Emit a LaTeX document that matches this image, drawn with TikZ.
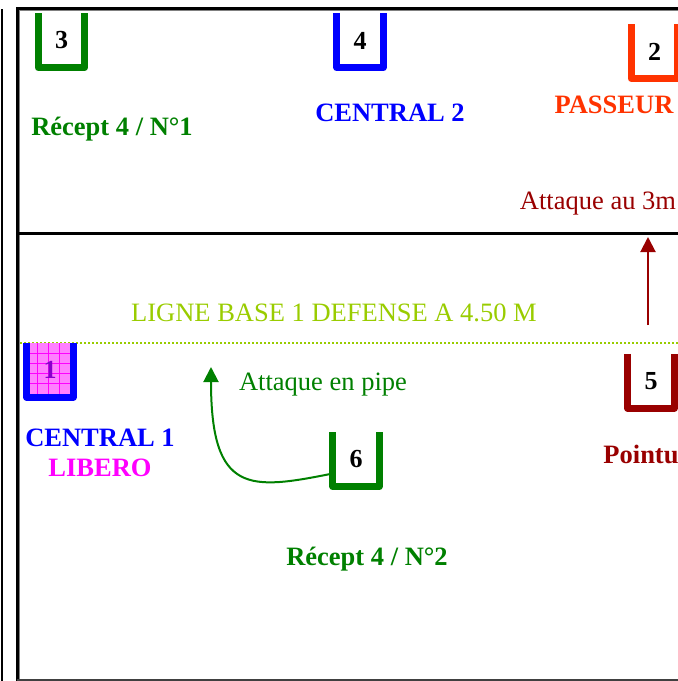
\documentclass[tikz,border=0pt]{standalone}
\usepackage{fontspec}
\setmainfont{Liberation Serif}
\usepackage{xcolor}
\usepackage{tikz}
\usetikzlibrary{arrows.meta, positioning}
\definecolor{courtgreen}{HTML}{008000}
\definecolor{courtblue}{HTML}{0000FF}
\definecolor{passeurred}{HTML}{FF3300}
\definecolor{pointured}{HTML}{990000}
\definecolor{lignegreen}{HTML}{99CC00}
\definecolor{liberopink}{HTML}{FF00FF}
\definecolor{liberofill}{HTML}{FF80FF}
\definecolor{numpurple}{HTML}{8800CC}
\tikzstyle{basket} = [rectangle, minimum width=46pt, minimum height=54pt, inner sep=0pt, text centered, font=\bfseries\fontsize{26}{28}\selectfont]
\tikzstyle{rim} = [line width=7pt, line join=round]
\tikzstyle{player} = [font=\bfseries\fontsize{26.5}{30}\selectfont]
\tikzstyle{note} = [font=\fontsize{26.5}{30}\selectfont]
\tikzstyle{arrow} = [line width=2pt,-{Triangle[width=15pt,length=15pt]}]

\begin{document}
\begin{tikzpicture}[x=1pt, y=-1pt]
            \useasboundingbox (0,0) rectangle (678,681);
            % court
            \draw [line width=2pt] (1.5,9) -- (1.5,681);
            \draw [line width=3pt] (17,681) -- (17,8) -- (678,8);
            \draw [gray, line width=1pt] (19.5,681) -- (19.5,10.5) -- (678,10.5);
            \draw [black!75, line width=1.5pt] (17,680) -- (678,680);
            \draw [line width=2.5pt] (17,233.5) -- (678,233.5);
            \draw [lignegreen, line width=2pt, dash pattern=on 2pt off 2pt] (20,342.5) -- (678,342.5);

            % baskets
            \fill [liberofill] (30,343) rectangle (70,394);
            \foreach \gx in {37,48,59}
                \draw [liberopink, line width=0.8pt] (\gx,343) -- (\gx,394);
            \foreach \gy in {353,363,373,383}
                \draw [liberopink, line width=0.8pt] (30,\gy) -- (70,\gy);
            \node (b3) [basket] at (61.5,40.5) {3};
            \node (b4) [basket] at (360,40.5) {4};
            \node (b2) [basket] at (654.5,51.5) {2};
            \node (b1) [basket, text=numpurple] at (50,370) {1};
            \node (b5) [basket] at (651,381) {5};
            \node (b6) [basket] at (356,459.5) {6};
            \draw [rim, courtgreen] (b3.north west) -- (b3.south west) -- (b3.south east) -- (b3.north east);
            \draw [rim, courtblue] (b4.north west) -- (b4.south west) -- (b4.south east) -- (b4.north east);
            \draw [rim, passeurred] (b2.north west) -- (b2.south west) -- (b2.south east) -- (b2.north east);
            \draw [rim, courtblue] (b1.north west) -- (b1.south west) -- (b1.south east) -- (b1.north east);
            \draw [rim, pointured] (b5.north west) -- (b5.south west) -- (b5.south east) -- (b5.north east);
            \draw [rim, courtgreen] (b6.north west) -- (b6.south west) -- (b6.south east) -- (b6.north east);

            % labels
            \node (recept1) [player, courtgreen] at (112,129) {Récept 4 / N°1};
            \node (central2) [player, courtblue] at (390,113) {CENTRAL 2};
            \node (passeur) [player, passeurred] at (614,105) {PASSEUR};
            \node (attaque3m) [note, pointured] at (598,204) {Attaque au 3m};
            \node (ligne) [note, lignegreen] at (334,313) {LIGNE BASE 1 DEFENSE A 4.50 M};
            \node (central1) [player, courtblue] at (100,438) {CENTRAL 1};
            \node (libero) [player, liberopink, below of=central1, node distance=30pt] {LIBERO};
            \node (pipe) [note, courtgreen] at (323,385) {Attaque en pipe};
            \node (pointu) [player, pointured] at (641,454) {Pointu};
            \node (recept2) [player, courtgreen] at (367,559) {Récept 4 / N°2};

            % attacks
            \coordinate (pointufoot) at (648,325);
            \coordinate (pointutip) at (648,237);
            \coordinate (pipetip) at (211,367);
            \draw [arrow, pointured] (pointufoot) -- (pointutip);
            \draw [arrow, courtgreen] ([yshift=-14pt]b6.west) .. controls (250,490) and (211,495) .. (pipetip);
        \end{tikzpicture}
\end{document}
